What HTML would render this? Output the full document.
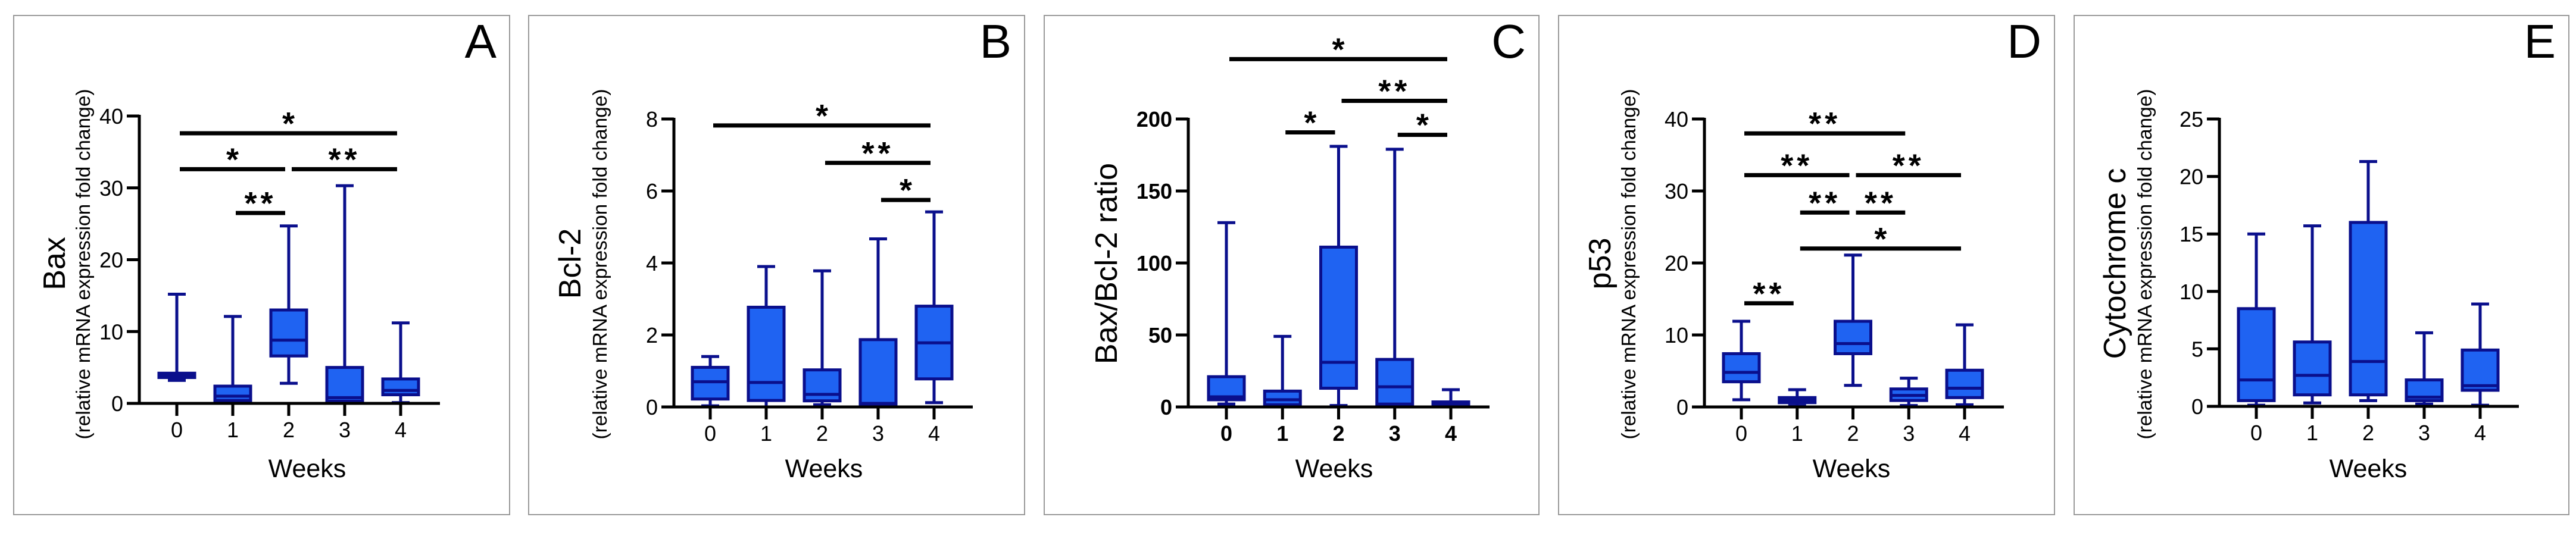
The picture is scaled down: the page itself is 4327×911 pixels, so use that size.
<!DOCTYPE html>
<html><head><meta charset="utf-8"><style>
html,body{margin:0;padding:0;background:#fff;}
svg{display:block;font-family:"Liberation Sans",Arial,sans-serif;}
</style></head><body>
<svg id="fig" width="4327" height="911" viewBox="0 0 4327 911" xmlns="http://www.w3.org/2000/svg"></svg>
<script>
// ---- data ----
const categories = ["0","1","2","3","4"];
const baxMin=[3.2,0.1,2.8,0.1,0.1], baxQ1=[3.6,0.4,6.6,0.3,1.2], baxMed=[3.9,1.0,8.8,0.8,1.8], baxQ3=[4.2,2.4,13,5.0,3.4], baxMax=[15.2,12.1,24.7,30.3,11.2];
const bclMin=[0.03,0.0,0.06,0.0,0.12], bclQ1=[0.22,0.18,0.17,0.02,0.78], bclMed=[0.7,0.68,0.35,0.1,1.78], bclQ3=[1.1,2.77,1.03,1.87,2.8], bclMax=[1.4,3.9,3.78,4.67,5.42];
const ratMin=[2,0.3,1,0.5,0.2], ratQ1=[5,1.5,13,2,0.8], ratMed=[7,5,31,14,2], ratQ3=[21,11,111,33,3.5], ratMax=[128,49,181,179,12];
const p53Min=[1,0.2,3,0.2,0.3], p53Q1=[3.5,0.6,7.4,0.9,1.3], p53Med=[4.8,0.9,8.8,1.6,2.6], p53Q3=[7.4,1.3,11.9,2.5,5.1], p53Max=[11.9,2.4,21.1,4.0,11.4];
const cytMin=[0.1,0.3,0.5,0.2,0.1], cytQ1=[0.5,1.0,1.0,0.5,1.4], cytMed=[2.3,2.7,3.9,0.8,1.8], cytQ3=[8.5,5.6,16,2.3,4.9], cytMax=[15,15.7,21.3,6.4,8.9];
const baxTicks=[0,10,20,30,40], bclTicks=[0,2,4,6,8], ratTicks=[0,50,100,150,200], p53Ticks=[0,10,20,30,40], cytTicks=[0,5,10,15,20,25];
// significance: [from, to, level, label]
const baxSig=[[0,4,37.6,"*"],[0,2,32.6,"*"],[2,4,32.6,"**"],[1,2,26.5,"**"]];
const bclSig=[[0,4,7.82,"*"],[2,4,6.78,"**"],[3,4,5.75,"*"]];
const ratSig=[[0,4,241.6,"*"],[2,4,212.6,"**"],[1,2,190.7,"*"],[3,4,189,"*"]];
const p53Sig=[[0,3,38,"**"],[0,2,32.2,"**"],[2,4,32.2,"**"],[1,2,27,"**"],[2,3,27,"**"],[1,4,22,"*"],[0,1,14.4,"**"]];
const cytSig=[];

const panels=[
 {id:"a",letter:"A",bl:23,br:856,ax:234,y0:678,yTop:195,max:40,c0:297,c4:673,xend:739,wx:516,tx:91,sx:139,title:"Bax",sub:true,bold:false,ticks:baxTicks,d:[baxMin,baxQ1,baxMed,baxQ3,baxMax],sig:baxSig},
 {id:"b",letter:"B",bl:888,br:1721,ax:1132,y0:684,yTop:200,max:8,c0:1193,c4:1569,xend:1634,wx:1384,tx:957,sx:1007,title:"Bcl-2",sub:true,bold:false,ticks:bclTicks,d:[bclMin,bclQ1,bclMed,bclQ3,bclMax],sig:bclSig},
 {id:"c",letter:"C",bl:1754,br:2585,ax:1996,y0:684,yTop:200,max:200,c0:2060,c4:2437,xend:2502,wx:2241,tx:1858,sx:0,title:"Bax/Bcl-2 ratio",sub:false,bold:true,ticks:ratTicks,d:[ratMin,ratQ1,ratMed,ratQ3,ratMax],sig:ratSig},
 {id:"d",letter:"D",bl:2618,br:3451,ax:2863,y0:684,yTop:200,max:40,c0:2925,c4:3300,xend:3366,wx:3110,tx:2687,sx:2735,title:"p53",sub:true,bold:false,ticks:p53Ticks,d:[p53Min,p53Q1,p53Med,p53Q3,p53Max],sig:p53Sig},
 {id:"e",letter:"E",bl:3484,br:4315,ax:3728,y0:683,yTop:200,max:25,c0:3790,c4:4166,xend:4231,wx:3978,tx:3552,sx:3602,title:"Cytochrome c",sub:true,bold:false,ticks:cytTicks,d:[cytMin,cytQ1,cytMed,cytQ3,cytMax],sig:cytSig}
];
const NS="http://www.w3.org/2000/svg";
const svg=document.getElementById("fig");
function mk(tag,attrs,parent){const e=document.createElementNS(NS,tag);for(const k in attrs)e.setAttribute(k,attrs[k]);parent.appendChild(e);return e;}
panels.forEach(p=>{
  const g=mk("g",{},svg);
  
  
  const yS=v=>p.y0-(v/p.max)*(p.y0-p.yTop);
  const xS=i=>p.c0+i*(p.c4-p.c0)/4;
  const fr=mk("rect",{x:p.bl,y:26,width:p.br-p.bl,height:839,fill:"none",stroke:"#9a9a9a","stroke-width":2},g);
  
  
  const lt=mk("text",{x:p.br-22,y:97,"font-size":80,"text-anchor":"end",fill:"#000"},g);
  lt.textContent=p.letter;
  
  
  // boxes
  categories.forEach((c,i)=>{
    const x=xS(i),bw=60,cw=30;
    const [mn,q1,md,q3,mx]=p.d.map(a=>a[i]);
    const bg=mk("g",{stroke:"#0a0f8c","stroke-width":5,fill:"none"},g);
    
    
    mk("line",{x1:x,x2:x,y1:yS(mx),y2:yS(mn)},bg);
    mk("line",{x1:x-cw/2,x2:x+cw/2,y1:yS(mx),y2:yS(mx)},bg);
    mk("line",{x1:x-cw/2,x2:x+cw/2,y1:yS(mn),y2:yS(mn)},bg);
    mk("rect",{x:x-bw/2,y:yS(q3),width:bw,height:Math.max(yS(q1)-yS(q3),1),fill:"#1f63f2"},bg);
    mk("line",{x1:x-bw/2,x2:x+bw/2,y1:yS(md),y2:yS(md)},bg);
  });
  // axes
  const ya=mk("line",{x1:p.ax,x2:p.ax,y1:p.yTop-2,y2:p.y0+2,stroke:"#000","stroke-width":5},g);
  
  
  const xa=mk("line",{x1:p.ax-2,x2:p.xend,y1:p.y0,y2:p.y0,stroke:"#000","stroke-width":5},g);
  
  
  p.ticks.forEach(t=>{
    mk("line",{x1:p.ax-21,x2:p.ax,y1:yS(t),y2:yS(t),stroke:"#000","stroke-width":5},g);
    const tl=mk("text",{x:p.ax-27,y:yS(t)+13,"font-size":36,"text-anchor":"end","font-weight":p.bold?"bold":"normal"},g);
    tl.textContent=t;
    
    
  });
  categories.forEach((c,i)=>{
    mk("line",{x1:xS(i),x2:xS(i),y1:p.y0,y2:p.y0+21,stroke:"#000","stroke-width":5},g);
    const tl=mk("text",{x:xS(i),y:p.y0+57,"font-size":36,"text-anchor":"middle","font-weight":p.bold?"bold":"normal"},g);
    tl.textContent=c;
    
    
  });
  const wk=mk("text",{x:p.wx,y:802,"font-size":43,"text-anchor":"middle"},g);
  wk.textContent="Weeks";
  
  
  const tt=mk("text",{x:0,y:0,"font-size":52,"text-anchor":"middle",transform:`translate(${p.tx+18},443) rotate(-90)`},g);
  tt.textContent=p.title;
  
  
  if(p.sub){
    const st=mk("text",{x:0,y:0,"font-size":33,"text-anchor":"middle",textLength:589,lengthAdjust:"spacingAndGlyphs",transform:`translate(${p.sx+12},444) rotate(-90)`},g);
    st.textContent="(relative mRNA expression fold change)";
    
    
  }
  p.sig.forEach(s=>{
    const [a,b,lv,lab]=s;const y=yS(lv);
    const x1=xS(a)+5,x2=xS(b)-6;
    const sl=mk("line",{x1:x1,x2:x2,y1:y,y2:y,stroke:"#000","stroke-width":7},g);
    
    
    const sx=mk("text",{x:(x1+x2)/2,y:y+2,"font-size":54,"text-anchor":"middle","letter-spacing":lab.length>1?6:0,"font-weight":"bold"},g);
    sx.textContent=lab;
    
    
  });
});
</script>
</body></html>
